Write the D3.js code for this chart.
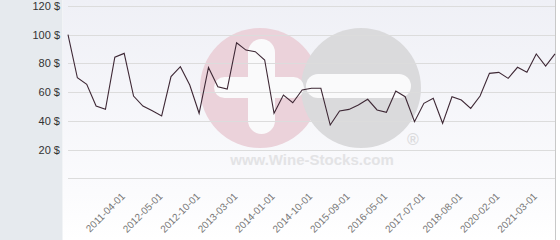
<!DOCTYPE html>
<html>
<head>
<meta charset="utf-8">
<script src="https://cdn.jsdelivr.net/npm/d3@7"></script>
<style>
  html, body { margin: 0; padding: 0; background: #fff; }
  svg { display: block; font-family: "DejaVu Sans", sans-serif; }
</style>
</head>
<body>
<div id="chart"></div>
<script>
const width = 560;
const height = 240;
const margin = { top: 6, left: 68, right: 5, bottom: 62 };

// price per point
const prices = [100, 70, 65.5, 50.3, 48, 84.3, 87, 57.3, 50.3, 47, 43.4,
  70.8, 77.7, 65, 45.3, 77.2, 63.8, 62.2, 94.4, 89.3, 88.2, 82.4, 45.3,
  58, 52.6, 61.5, 62.7, 62.7, 37.1, 46.9, 48, 51, 55, 47.6, 46, 60.8,
  56.8, 39.4, 52.2, 55.7, 38.3, 56.8, 54.5, 48.7, 57.3, 73.1, 73.8,
  69.6, 77.3, 73.8, 86.6, 78.2, 86.6];
const tickIndex = [6, 10, 14, 18, 22, 26, 30, 34, 38, 42, 46, 50];
const tickLabels = ["2011-04-01", "2012-05-01", "2012-10-01", "2013-03-01",
  "2014-01-01", "2014-10-01", "2015-09-01", "2016-05-01", "2017-07-01",
  "2018-08-01", "2020-02-01", "2021-03-01"];
const gridValues = [0, 20, 40, 60, 80, 100, 120];
const yLabelValues = [20, 40, 60, 80, 100, 120];

const svg = d3.select("#chart").append("svg")
  .attr("width", width)
  .attr("height", height);

const x = d3.scalePoint()
  .domain(d3.range(prices.length))
  .range([margin.left, width - margin.right]);
const y = d3.scaleLinear()
  .domain([0, 120])
  .range([height - margin.bottom + 0.3, margin.top]);

// backgrounds
const defs = svg.append("defs");
const grad = defs.append("linearGradient")
  .attr("id", "bg").attr("x1", 0).attr("y1", 0).attr("x2", 0).attr("y2", 1);
grad.append("stop").attr("offset", "0%").attr("stop-color", "#eff0f6");
grad.append("stop").attr("offset", "80%").attr("stop-color", "#fbfbfd");
grad.append("stop").attr("offset", "100%").attr("stop-color", "#ffffff");

svg.append("rect").attr("width", width).attr("height", height).attr("fill", "#fff");
svg.append("rect").attr("x", 63).attr("width", 493).attr("height", height).attr("fill", "url(#bg)");
svg.append("rect").attr("width", 62.5).attr("height", height).attr("fill", "#e6eaee");
svg.append("line")
  .attr("x1", 555.5).attr("x2", 555.5).attr("y1", 0).attr("y2", height)
  .attr("stroke", "#c8c8c8");

// watermark
const wm = svg.append("g");
wm.append("circle").attr("cx", 260).attr("cy", 88).attr("r", 60).attr("fill", "#ebd2da");
wm.append("circle").attr("cx", 361).attr("cy", 88).attr("r", 60).attr("fill", "#dadadc");
wm.append("rect").attr("x", 214).attr("y", 77).attr("width", 90).attr("height", 21).attr("rx", 10.5).attr("fill", "#fafafb");
wm.append("rect").attr("x", 248).attr("y", 39).attr("width", 27).attr("height", 95).attr("rx", 13.5).attr("fill", "#fafafb");
wm.append("rect").attr("x", 306).attr("y", 74).attr("width", 105).attr("height", 24).attr("rx", 12).attr("fill", "#fafafb");
wm.append("text").attr("x", 312).attr("y", 165).attr("text-anchor", "middle")
  .style("font", "bold 15px 'Liberation Sans', Arial, sans-serif")
  .attr("fill", "#e3e3e5").text("www.Wine-Stocks.com");
wm.append("text").attr("x", 413).attr("y", 145).attr("text-anchor", "middle")
  .style("font", "bold 16px 'Liberation Sans', Arial, sans-serif")
  .attr("fill", "#dcdcde").text("®");

// grid
svg.append("g")
  .selectAll("line")
  .data(gridValues)
  .enter().append("line")
  .attr("x1", margin.left).attr("x2", width - margin.right)
  .attr("y1", d => Math.round(y(d)) + 0.5)
  .attr("y2", d => Math.round(y(d)) + 0.5)
  .attr("stroke", "#dcdcdc");

// y axis
const yAxis = g => g
  .attr("transform", `translate(60,0)`)
  .call(d3.axisLeft(y).tickValues(yLabelValues).tickSize(0).tickPadding(0).tickFormat(d => d + " $"))
  .call(g => g.select(".domain").remove())
  .call(g => g.selectAll("text").attr("fill", "#333").style("font-size", "11px"));
svg.append("g").call(yAxis);

// x axis
const xAxis = g => g
  .attr("transform", `translate(0,${height - margin.bottom})`)
  .call(d3.axisBottom(x).tickValues(tickIndex).tickSize(0).tickFormat((d, i) => tickLabels[i]))
  .call(g => g.select(".domain").remove())
  .call(g => g.selectAll("text")
    .attr("y", 0).attr("dy", 0)
    .attr("text-anchor", "end")
    .attr("transform", "translate(1,19) rotate(-45)")
    .attr("fill", "#777")
    .style("font-size", "10px"));
svg.append("g").call(xAxis);

// price line
const line = d3.line()
  .x((d, i) => x(i))
  .y(d => y(d));
svg.append("path")
  .datum(prices)
  .attr("fill", "none")
  .attr("stroke", "#3e2835")
  .attr("stroke-width", 1.1)
  .attr("d", line);
</script>
</body>
</html>
